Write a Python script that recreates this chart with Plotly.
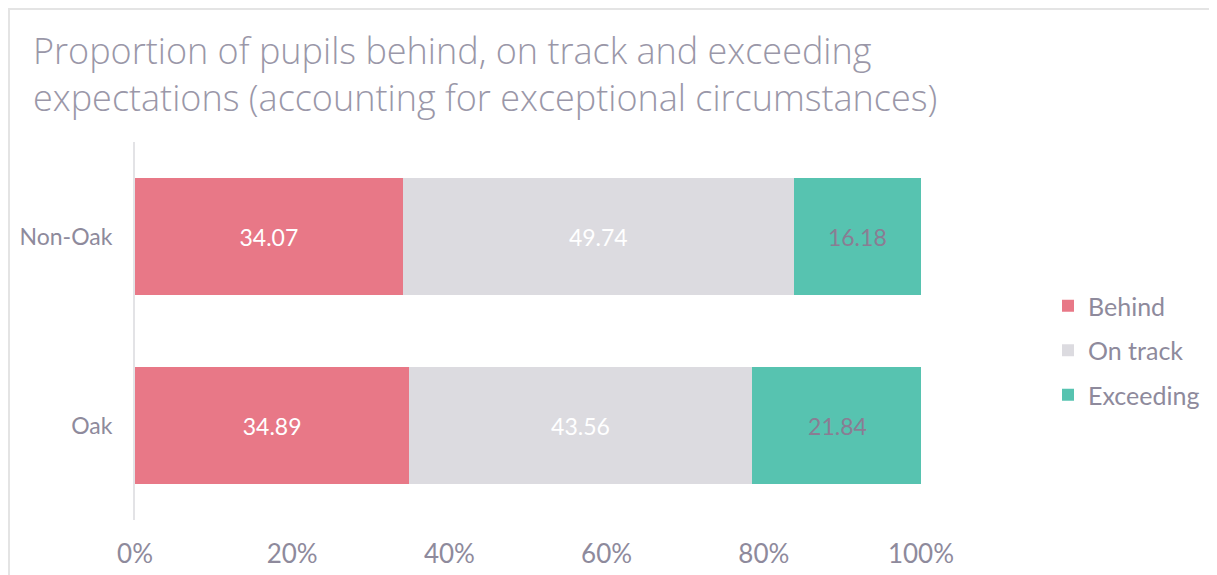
import plotly.graph_objects as go

categories = ["Oak", "Non-Oak"]
behind = [34.89, 34.07]
on_track = [43.56, 49.74]
exceeding = [21.84, 16.18]
series_names = ["Behind", "On track", "Exceeding"]
tick_vals = [0, 0.2, 0.4, 0.6, 0.8, 1.0]
tick_text = ["0%", "20%", "40%", "60%", "80%", "100%"]
title_lines = ["Proportion of pupils behind, on track and exceeding",
               "expectations (accounting for exceptional circumstances)"]

colors = ["#e87887", "#dcdbe0", "#57c3b0"]
text_colors = ["#ffffff", "#ffffff", "#8a7d93"]
FONT = "Lato"
GREY = "#8e8a9c"

# the page body adds an 8px margin; figure coords = page coords - 8
W, H = 1209, 567
L, R, T, B = 127, 296, 134, 55
pw, ph = W - L - R, H - T - B

fig = go.Figure()
for name, vals, c, tc in zip(series_names, [behind, on_track, exceeding], colors, text_colors):
    fig.add_trace(go.Bar(
        y=categories, x=[v / 100 for v in vals], orientation="h", name=name,
        marker=dict(color=c, line=dict(width=0)),
        text=[f"{v:.2f}" for v in vals], textposition="inside",
        insidetextanchor="middle",
        textfont=dict(family=FONT, size=23, color=tc),
        legendgroup=name,
    ))

def px_x(fx):
    return (fx - L) / pw

def px_y(fy):
    return (H - B - fy) / ph

annotations = [dict(
    text="<br>".join(title_lines), xref="paper", yref="paper", x=px_x(23), y=px_y(16),
    xanchor="left", yanchor="top", align="left", showarrow=False,
    font=dict(family="Open Sans", size=36, color="#9a97a8", weight=300),
)]

fig.update_layout(
    width=W, height=H,
    margin=dict(l=L, r=R, t=T, b=B, autoexpand=False),
    barmode="stack", bargap=0.38,
    paper_bgcolor="white", plot_bgcolor="white",
    font=dict(family=FONT, color=GREY),
    xaxis=dict(range=[0, 1], tickvals=tick_vals, ticktext=tick_text, showgrid=False,
               zeroline=False, showline=False, ticks="",
               tickfont=dict(family=FONT, size=26, color=GREY), ticklabelstandoff=16,
               fixedrange=True),
    yaxis=dict(showgrid=False, zeroline=False, showline=True, linecolor="#e3e3e6", linewidth=2,
               ticks="", tickfont=dict(family=FONT, size=23, color=GREY), ticklabelstandoff=16,
               fixedrange=True),
    legend=dict(
        x=px_x(1040), xanchor="left", y=px_y(275), yanchor="top",
        traceorder="grouped", tracegroupgap=9,
        font=dict(family=FONT, size=25, color=GREY),
        itemclick=False,
    ),
    showlegend=True,
    annotations=annotations,
    shapes=[dict(type="rect", xref="paper", yref="paper",
                 x0=px_x(1), x1=px_x(1230), y0=px_y(600), y1=px_y(1),
                 line=dict(color="#e4e4e4", width=2), layer="below")],
)

fig.write_html("out.html")
